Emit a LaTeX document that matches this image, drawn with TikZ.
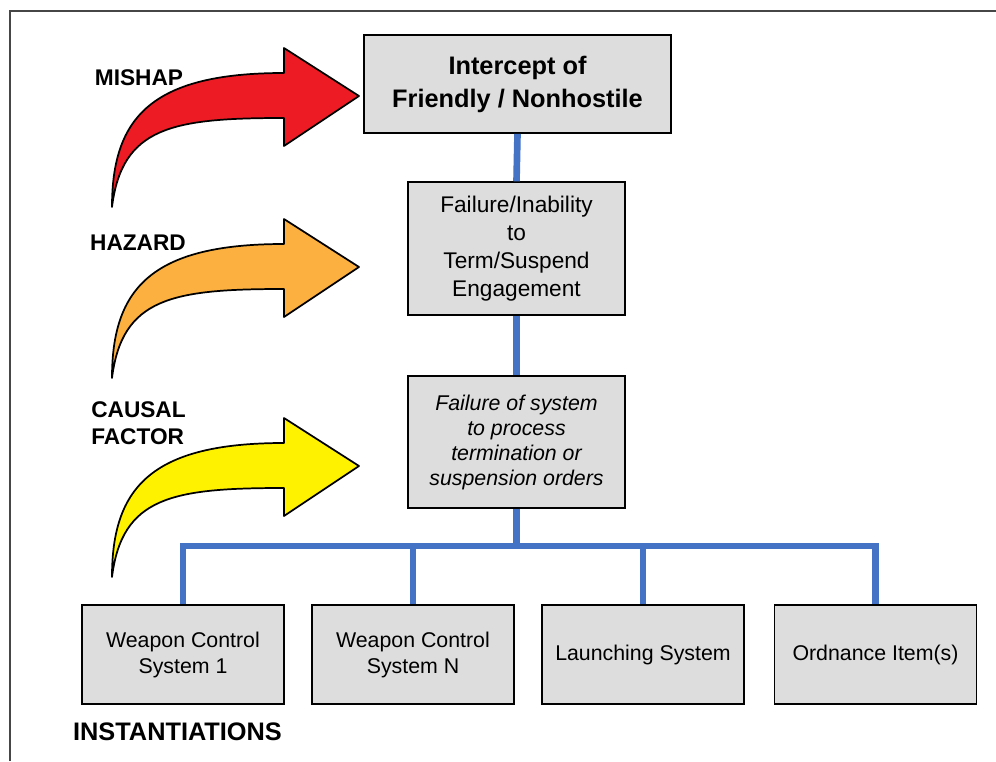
\documentclass[tikz,border=0pt]{standalone}
\usepackage{fontspec}
\setmainfont{Liberation Sans}
\usepackage{tikz}
\usetikzlibrary{positioning}
\usepackage{xcolor}
\definecolor{boxgray}{RGB}{221,221,221}
\definecolor{busblue}{RGB}{68,114,196}
\definecolor{framegray}{RGB}{70,70,70}
\definecolor{mishapred}{RGB}{237,28,36}
\definecolor{hazardorange}{RGB}{251,176,64}
\definecolor{causalyellow}{RGB}{255,242,0}
\tikzset{
    levelbox/.style={draw=black, line width=1.3pt, fill=boxgray, align=center, inner sep=0pt},
    box_top/.style={levelbox, minimum width=230pt, minimum height=73.5pt, font=\fontsize{19}{24.75}\selectfont\bfseries},
    box_mid/.style={levelbox, minimum width=162.75pt, minimum height=99.5pt, font=\fontsize{17}{21}\selectfont},
    box_low/.style={levelbox, minimum width=162.75pt, minimum height=99pt, font=\fontsize{16}{18.75}\selectfont\itshape},
    box_inst/.style={levelbox, minimum width=151.5pt, minimum height=74.25pt, font=\fontsize{16}{19.5}\selectfont},
    tag/.style={align=left, inner sep=0pt, font=\fontsize{17}{20.5}\selectfont\bfseries},
    bus/.style={draw=busblue, line width=5pt},
    bent_arrow/.style={draw=black, line width=1.3pt, line join=round}
}
\begin{document}
\begin{tikzpicture}[x=0.75pt, y=-0.75pt]
    \useasboundingbox (0,0) rectangle (996,761);
    % frame (only top and left edges show)
    \coordinate (frameTL) at (10,11);
    \draw[framegray, line width=1.5pt] (frameTL |- 0,761) -- (frameTL) -- (996,11);

    % chain of boxes
    \node[box_top] (mishap) at (517.5,84) {Intercept of\\Friendly / Nonhostile};
    \node[box_mid] (hazard) at (516.5,248.5) {Failure/Inability\\to\\Term/Suspend\\Engagement};
    \node[box_low] (causal) at (516.5,442) {Failure of system\\to process\\termination or\\suspension orders};

    \node[box_inst] (wcs1) at (183,654.5) {Weapon Control\\System 1};
    \node[box_inst] (wcsN) at (413,654.5) {Weapon Control\\System N};
    \node[box_inst] (launch) at (643,654.5) {Launching System};
    \node[box_inst] (ordnance) at (875.5,654.5) {Ordnance Item(s)};

    % blue links
    \draw[bus] (mishap.south) -- (hazard.north);
    \draw[bus] (hazard.south) -- (causal.north);
    \draw[bus] (causal.south) -- ++(0,37) coordinate (split);
    \draw[bus] (wcs1.north) |- (split) -| (ordnance.north);
    \draw[bus] (wcsN.north) -- (wcsN.north |- split);
    \draw[bus] (launch.north) -- (launch.north |- split);

    % curved arrows
    \foreach \ty/\col in {207/mishapred, 378/hazardorange, 577/causalyellow}{
        \begin{scope}[shift={(112,\ty)}]
            \draw[bent_arrow, fill=\col] (0,0) .. controls (0,-90) and (40,-134) .. (172,-134)
                -- (172,-159) -- (247,-111) -- (172,-61) -- (172,-89)
                .. controls (60,-89) and (10,-80) .. (0,0) -- cycle;
        \end{scope}
    }

    % level labels
    \node[tag] (tagMishap) at (139,78) {MISHAP};
    \node[tag] (tagHazard) at (138,243) {HAZARD};
    \node[tag] (tagCausal) at (138.5,423.5) {CAUSAL\\FACTOR};
    \node[tag, font=\fontsize{19}{22}\selectfont\bfseries] (tagInst) at (177.5,732) {INSTANTIATIONS};
\end{tikzpicture}
\end{document}
